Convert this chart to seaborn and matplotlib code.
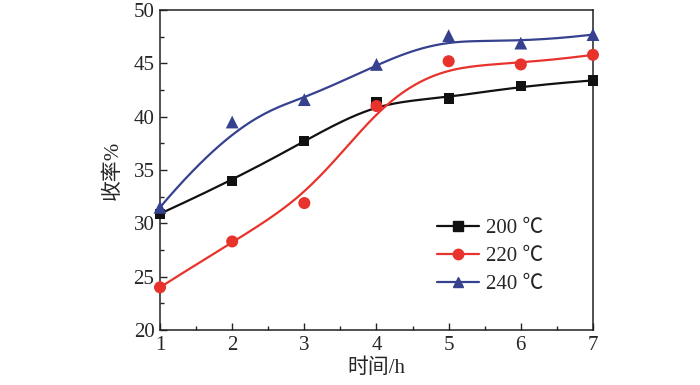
import numpy as np
import pandas as pd
import matplotlib
matplotlib.use("Agg")
import matplotlib.pyplot as plt
import seaborn as sns
from matplotlib.lines import Line2D
from matplotlib.ticker import MultipleLocator

hours = [1, 2, 3, 4, 5, 6, 7]
yield_200 = [30.9, 34.0, 37.7, 41.4, 41.7, 42.9, 43.4]
yield_220 = [24.0, 28.3, 31.9, 41.0, 45.2, 44.9, 45.8]
yield_240 = [31.5, 39.5, 41.6, 44.9, 47.6, 46.9, 47.7]
labels = ["200 ℃", "220 ℃", "240 ℃"]
colors = ["#111111", "#e8322c", "#36418f"]
markers = ["s", "o", "^"]


def bspline(xs, ys, n=200):
    # clamped cubic B-spline with the data points as control points
    pts = np.column_stack([xs, ys]).astype(float)
    m = len(pts)
    k = 3
    knots = np.concatenate([[0] * k, np.arange(m - k + 1), [m - k] * k]).astype(float)
    t = np.linspace(0, m - k, n)
    t[-1] -= 1e-9

    def basis(i, p, tt):
        if p == 0:
            return ((knots[i] <= tt) & (tt < knots[i + 1])).astype(float)
        out = np.zeros_like(tt)
        d1 = knots[i + p] - knots[i]
        d2 = knots[i + p + 1] - knots[i + 1]
        if d1 > 0:
            out += (tt - knots[i]) / d1 * basis(i, p - 1, tt)
        if d2 > 0:
            out += (knots[i + p + 1] - tt) / d2 * basis(i + 1, p - 1, tt)
        return out

    B = np.array([basis(i, k, t) for i in range(m)])
    curve = B.T @ pts
    return curve[:, 0], curve[:, 1]


sns.set_style("ticks")
plt.rcParams["font.family"] = ["Liberation Serif", "Noto Sans CJK SC"]
plt.rcParams["xtick.direction"] = "in"
plt.rcParams["ytick.direction"] = "in"

fig = plt.figure(figsize=(7, 3.85), dpi=100)
ax = fig.add_axes([0.2286, 0.1429, 0.6185, 0.831])

series = [yield_200, yield_220, yield_240]
handles = []
for vals, lab, c, mk in zip(series, labels, colors, markers):
    cx, cy = bspline(hours, vals)
    curve_df = pd.DataFrame({"x": cx, "y": cy})
    sns.lineplot(data=curve_df, x="x", y="y", color=c, lw=1.6, ax=ax, sort=False)
    pt_df = pd.DataFrame({"x": hours, "y": vals})
    ms = 55 if mk == "s" else (75 if mk == "o" else 85)
    sns.scatterplot(data=pt_df, x="x", y="y", color=c, marker=mk, s=ms,
                    edgecolor="none", ax=ax, zorder=3, clip_on=False)
    handles.append(Line2D([], [], color=c, lw=1.6, marker=mk, markersize=7.5))

ax.set_xlim(1, 7)
ax.set_ylim(20, 50)
ax.xaxis.set_major_locator(MultipleLocator(1))
ax.xaxis.set_minor_locator(MultipleLocator(0.5))
ax.yaxis.set_major_locator(MultipleLocator(5))
ax.yaxis.set_minor_locator(MultipleLocator(2.5))
ax.tick_params(which="major", length=5, width=1, labelsize=15, pad=4,
               top=False, right=False)
ax.tick_params(which="minor", length=3, width=1, top=False, right=False)
for sp in ax.spines.values():
    sp.set_visible(True)
    sp.set_linewidth(1.1)
    sp.set_color("#222222")

ax.set_xlabel("时间/h", fontsize=15, labelpad=3)
ax.set_ylabel("收率%", fontsize=15, labelpad=8)

ax.legend(handles, labels, loc="center left", bbox_to_anchor=(0.64, 0.23),
          frameon=False, fontsize=15, handlelength=2.0, labelspacing=0.4,
          handletextpad=0.35, borderpad=0, borderaxespad=0)

fig.savefig("out.png", dpi=100)
